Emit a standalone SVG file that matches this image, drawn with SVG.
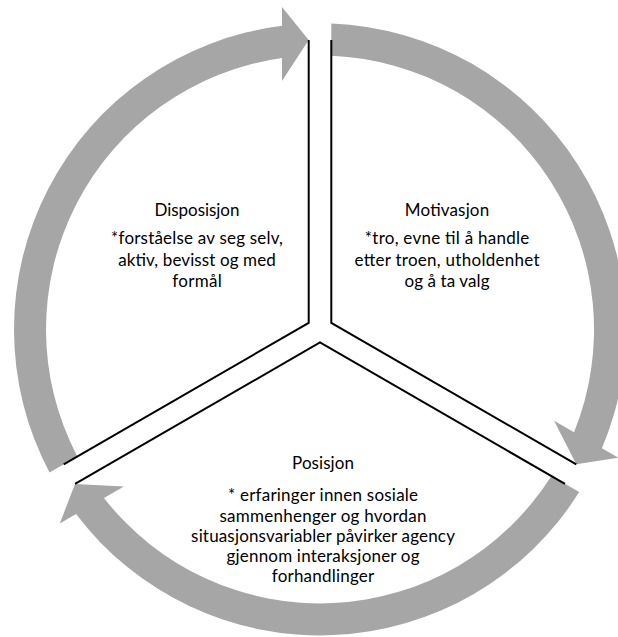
<svg xmlns="http://www.w3.org/2000/svg" width="618" height="637" viewBox="0 0 618 637">
  <style>
    .arrow { fill: #A6A6A6; stroke: none; }
    .divider { fill: none; stroke: #000000; stroke-width: 2; stroke-linejoin: miter; stroke-linecap: butt; }
    .t { font-family: "Lato", "Liberation Sans", sans-serif; font-size: 17px; fill: #000000; text-anchor: middle; }
  </style>
  <defs>
    <path id="cycleArrow" d="M 49.5 472.5 A 306 306 0 0 1 282 25.8 L 282 7 L 308.7 40 L 282 81 L 282 58 A 274 274 0 0 0 77.3 456.5 Z"/>
  </defs>
  <rect x="0" y="0" width="618" height="637" fill="#FFFFFF"/>

  <g id="connectors">
    <use href="#cycleArrow" class="arrow"/>
    <use href="#cycleArrow" class="arrow" transform="rotate(120 320 329.4)"/>
    <use href="#cycleArrow" class="arrow" transform="rotate(240 320 329.4)"/>
    <polyline class="divider" points="308.7,40 308.7,322.9 63.7,464.3"/>
    <polyline class="divider" points="331.3,40 331.3,322.9 576.3,464.3"/>
    <polyline class="divider" points="75.05,483.9 320,342.45 564.95,483.9"/>
  </g>

  <g id="disposisjon">
    <text class="t" x="197" y="216" textLength="84.9">Disposisjon</text>
    <text class="t" x="197" y="244" textLength="171.8">*forståelse av seg selv,</text>
    <text class="t" x="197" y="265.5" textLength="157.6">aktiv, bevisst og med</text>
    <text class="t" x="197" y="287" textLength="49.7">formål</text>
  </g>

  <g id="motivasjon">
    <text class="t" x="447" y="216" textLength="84.3">Motivasjon</text>
    <text class="t" x="447" y="244" textLength="164.4">*tro, evne til å handle</text>
    <text class="t" x="447" y="265.5" textLength="185">etter troen, utholdenhet</text>
    <text class="t" x="447" y="287" textLength="85.1">og å ta valg</text>
  </g>

  <g id="posisjon">
    <text class="t" x="323" y="469" textLength="61.9">Posisjon</text>
    <text class="t" x="323" y="501" textLength="190.1">* erfaringer innen sosiale</text>
    <text class="t" x="323" y="521.5" textLength="207">sammenhenger og hvordan</text>
    <text class="t" x="323" y="542" textLength="263.8">situasjonsvariabler påvirker agency</text>
    <text class="t" x="323" y="562" textLength="193">gjennom interaksjoner og</text>
    <text class="t" x="323" y="582" textLength="102.4">forhandlinger</text>
  </g>
</svg>
